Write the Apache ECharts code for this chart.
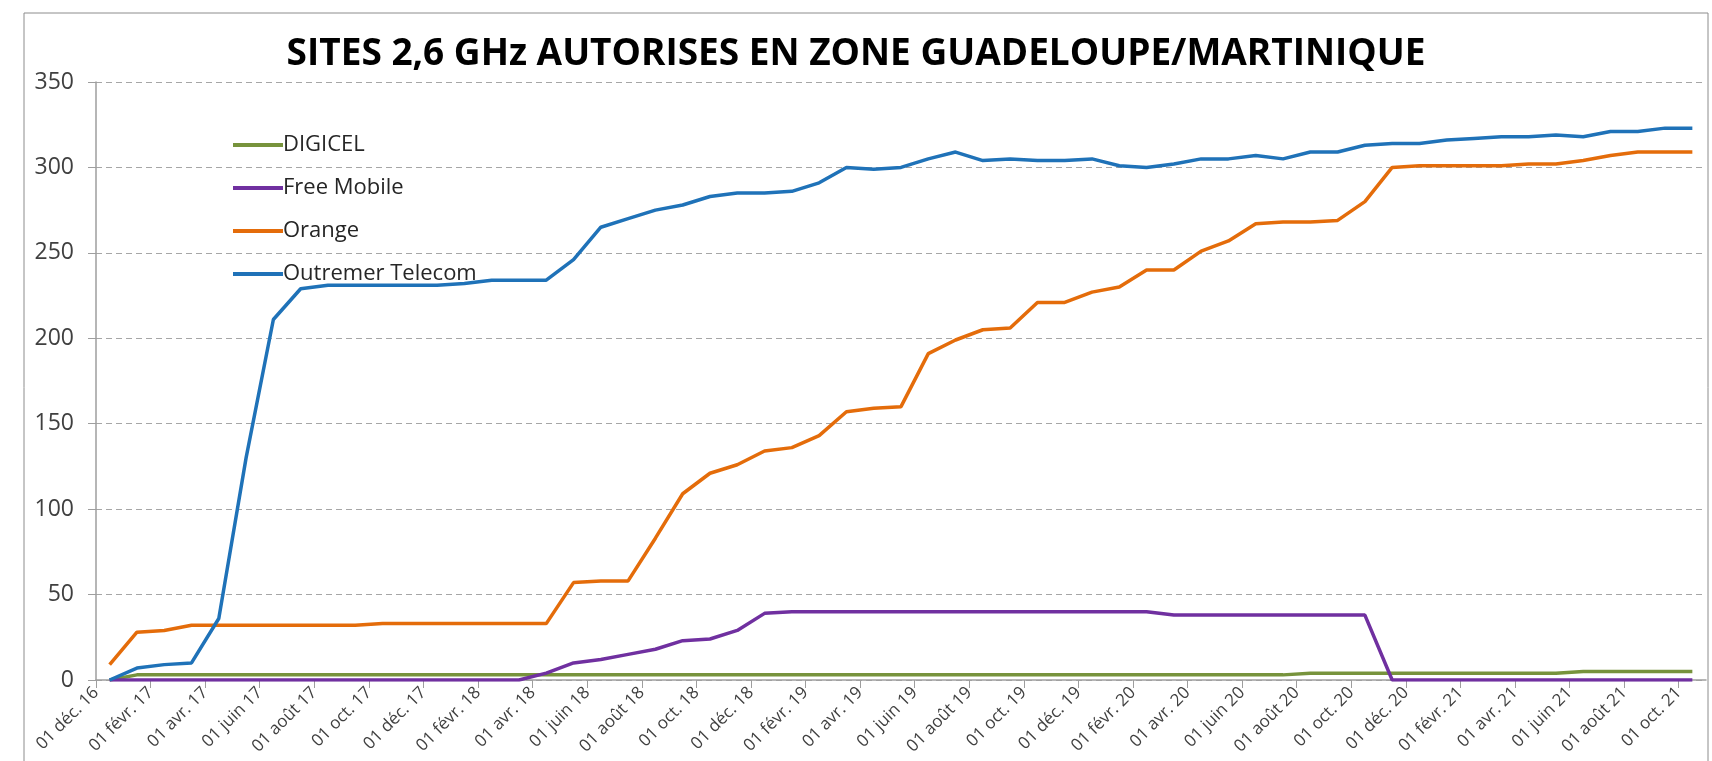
<!DOCTYPE html>
<html>
<head>
<meta charset="utf-8">
<script src="https://cdn.jsdelivr.net/npm/echarts@6/dist/echarts.min.js"></script>
<style>
  html, body { margin: 0; padding: 0; background: #fff; }
  #chart { width: 1712px; height: 761px; }
</style>
</head>
<body>
<div id="chart"></div>
<script>
// axis ticks : 1er de chaque mois, déc. 2016 -> nov. 2021
var tickLabels = [
  '01 déc. 16',
  '01 janv. 17', '01 févr. 17', '01 mars 17', '01 avr. 17', '01 mai 17', '01 juin 17',
  '01 juil. 17', '01 août 17', '01 sept. 17', '01 oct. 17', '01 nov. 17', '01 déc. 17',
  '01 janv. 18', '01 févr. 18', '01 mars 18', '01 avr. 18', '01 mai 18', '01 juin 18',
  '01 juil. 18', '01 août 18', '01 sept. 18', '01 oct. 18', '01 nov. 18', '01 déc. 18',
  '01 janv. 19', '01 févr. 19', '01 mars 19', '01 avr. 19', '01 mai 19', '01 juin 19',
  '01 juil. 19', '01 août 19', '01 sept. 19', '01 oct. 19', '01 nov. 19', '01 déc. 19',
  '01 janv. 20', '01 févr. 20', '01 mars 20', '01 avr. 20', '01 mai 20', '01 juin 20',
  '01 juil. 20', '01 août 20', '01 sept. 20', '01 oct. 20', '01 nov. 20', '01 déc. 20',
  '01 janv. 21', '01 févr. 21', '01 mars 21', '01 avr. 21', '01 mai 21', '01 juin 21',
  '01 juil. 21', '01 août 21', '01 sept. 21', '01 oct. 21', '01 nov. 21'
];

// un relevé par mois (milieu de mois), déc. 2016 -> oct. 2021
var months = [
  'déc. 16',
  'janv. 17', 'févr. 17', 'mars 17', 'avr. 17', 'mai 17', 'juin 17',
  'juil. 17', 'août 17', 'sept. 17', 'oct. 17', 'nov. 17', 'déc. 17',
  'janv. 18', 'févr. 18', 'mars 18', 'avr. 18', 'mai 18', 'juin 18',
  'juil. 18', 'août 18', 'sept. 18', 'oct. 18', 'nov. 18', 'déc. 18',
  'janv. 19', 'févr. 19', 'mars 19', 'avr. 19', 'mai 19', 'juin 19',
  'juil. 19', 'août 19', 'sept. 19', 'oct. 19', 'nov. 19', 'déc. 19',
  'janv. 20', 'févr. 20', 'mars 20', 'avr. 20', 'mai 20', 'juin 20',
  'juil. 20', 'août 20', 'sept. 20', 'oct. 20', 'nov. 20', 'déc. 20',
  'janv. 21', 'févr. 21', 'mars 21', 'avr. 21', 'mai 21', 'juin 21',
  'juil. 21', 'août 21', 'sept. 21', 'oct. 21'
];

var digicel = [
  0, 3, 3, 3, 3, 3, 3, 3, 3, 3,
  3, 3, 3, 3, 3, 3, 3, 3, 3, 3,
  3, 3, 3, 3, 3, 3, 3, 3, 3, 3,
  3, 3, 3, 3, 3, 3, 3, 3, 3, 3,
  3, 3, 3, 3, 4, 4, 4, 4, 4, 4,
  4, 4, 4, 4, 5, 5, 5, 5, 5
];

var freeMobile = [
  0, 0, 0, 0, 0, 0, 0, 0, 0, 0,
  0, 0, 0, 0, 0, 0, 4, 10, 12, 15,
  18, 23, 24, 29, 39, 40, 40, 40, 40, 40,
  40, 40, 40, 40, 40, 40, 40, 40, 40, 38,
  38, 38, 38, 38, 38, 38, 38, 0, 0, 0,
  0, 0, 0, 0, 0, 0, 0, 0, 0
];

var orange = [
  9, 28, 29, 32, 32, 32, 32, 32, 32, 32,
  33, 33, 33, 33, 33, 33, 33, 57, 58, 58,
  83, 109, 121, 126, 134, 136, 143, 157, 159, 160,
  191, 199, 205, 206, 221, 221, 227, 230, 240, 240,
  251, 257, 267, 268, 268, 269, 280, 300, 301, 301,
  301, 301, 302, 302, 304, 307, 309, 309, 309
];

var outremer = [
  0, 7, 9, 10, 36, 130, 211, 229, 231, 231,
  231, 231, 231, 232, 234, 234, 234, 246, 265, 270,
  275, 278, 283, 285, 285, 286, 291, 300, 299, 300,
  305, 309, 304, 305, 304, 304, 305, 301, 300, 302,
  305, 305, 307, 305, 309, 309, 313, 314, 314, 316,
  317, 318, 318, 319, 318, 321, 321, 323, 323
];

var FONT = 'Open Sans';

var myChart = echarts.init(document.getElementById('chart'), null, { renderer: 'canvas' });

function mkSeries(name, color, data) {
  return {
    name: name,
    type: 'line',
    xAxisIndex: 1,
    data: data,
    showSymbol: false,
    symbol: 'none',
    lineStyle: { width: 3.5, color: color },
    itemStyle: { color: color },
    animation: false
  };
}

var option = {
  backgroundColor: '#ffffff',
  animation: false,
  title: {
    text: 'SITES 2,6 GHz AUTORISES EN ZONE GUADELOUPE/MARTINIQUE',
    left: 'center',
    top: 31,
    textStyle: { fontFamily: FONT, fontWeight: 'bold', fontSize: 37, color: '#000' }
  },
  legend: {
    orient: 'vertical',
    left: 228,
    top: 128,
    itemWidth: 50,
    itemHeight: 4,
    itemGap: 19,
    icon: 'rect',
    textStyle: { fontFamily: FONT, fontSize: 22, color: '#262626', lineHeight: 24, padding: [0, 0, 0, -5] },
    data: ['DIGICEL', 'Free Mobile', 'Orange', 'Outremer Telecom']
  },
  grid: { left: 96, right: 6, top: 82, bottom: 81, containLabel: false },
  xAxis: [
    {
      // axe des graduations (1er du mois)
      type: 'category',
      data: tickLabels,
      boundaryGap: false,
      axisLine: { show: true, lineStyle: { color: '#9e9e9e', width: 1.5 } },
      axisTick: { show: true, interval: 1, length: 8, lineStyle: { color: '#9e9e9e' } },
      axisLabel: {
        interval: 1,
        rotate: 45,
        margin: 10,
        fontFamily: FONT,
        fontSize: 17,
        color: '#404040'
      },
      splitLine: { show: false }
    },
    {
      // axe des relevés mensuels (caché)
      type: 'category',
      data: months,
      boundaryGap: true,
      show: false
    }
  ],
  yAxis: {
    type: 'value',
    min: 0,
    max: 350,
    interval: 50,
    axisLine: { show: true, lineStyle: { color: '#9e9e9e', width: 1.5 } },
    axisTick: { show: true, length: 8, lineStyle: { color: '#9e9e9e' } },
    axisLabel: { margin: 22, fontFamily: FONT, fontSize: 23, color: '#404040' },
    splitLine: { show: true, lineStyle: { type: [6, 4], color: '#a6a6a6', width: 1 } }
  },
  graphic: [
    {
      type: 'rect',
      shape: { x: 24, y: 13, width: 1684, height: 800 },
      style: { fill: 'none', stroke: '#8c8c8c', lineWidth: 1 },
      silent: true
    }
  ],
  series: [
    mkSeries('DIGICEL', '#77933C', digicel),
    mkSeries('Free Mobile', '#7030A0', freeMobile),
    mkSeries('Orange', '#E46C0A', orange),
    mkSeries('Outremer Telecom', '#1F72B8', outremer)
  ]
};

myChart.setOption(option);
window.addEventListener('resize', function () {
  myChart.resize();
});
</script>
</body>
</html>
